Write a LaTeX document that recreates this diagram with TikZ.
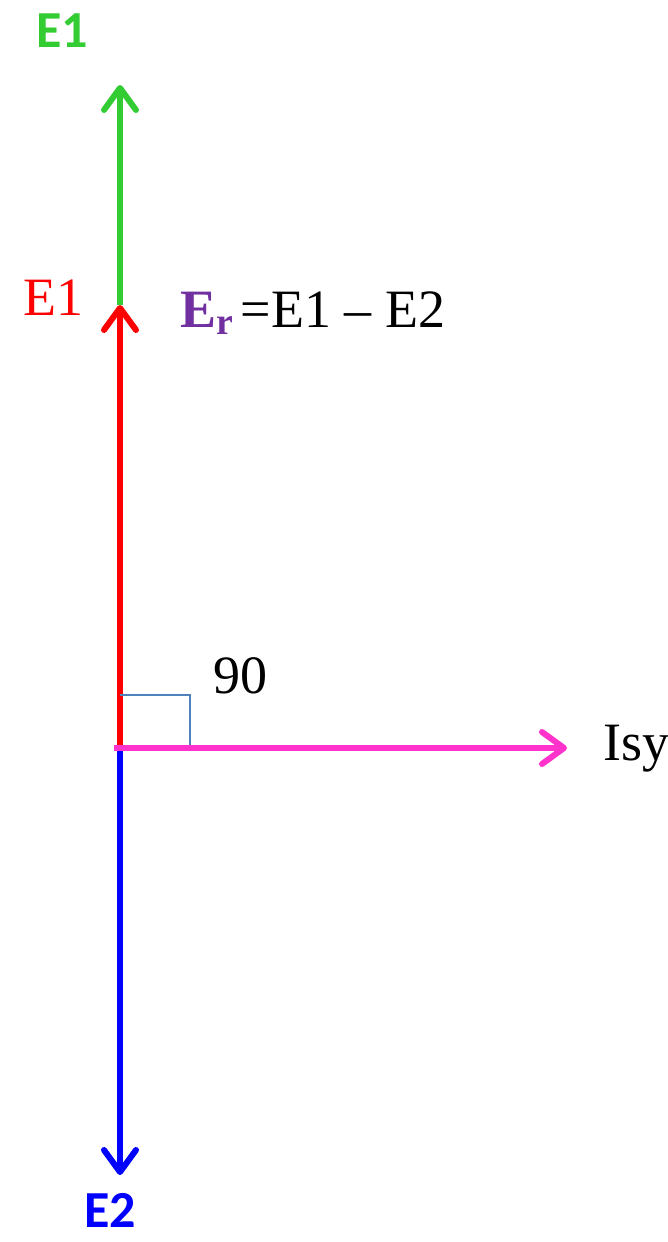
\documentclass[tikz,border=0pt]{standalone}
\usepackage{fontspec}
\setmainfont{Liberation Serif}
\newfontfamily\labelfont{Carlito}
\usetikzlibrary{arrows.meta}
\definecolor{vgreen}{HTML}{33CC33}
\definecolor{vmagenta}{HTML}{FF33CC}
\definecolor{vpurple}{HTML}{7030A0}
\definecolor{vsteel}{HTML}{4F81BD}
\tikzset{
  phasor/.style={line width=3pt,-{Straight Barb[length=11pt,width=16pt,round]}},
  txt/.style={inner sep=0pt,anchor=base west,font=\fontsize{27}{30}\selectfont},
  bigtxt/.style={inner sep=0pt,text depth=0pt,anchor=base west,font=\labelfont\bfseries\fontsize{26}{30}\selectfont}
}
\begin{document}
\begin{tikzpicture}[x=0.5pt,y=-0.5pt]
\useasboundingbox (0,0) rectangle (668,1242);
\coordinate (O) at (120,748);
\coordinate (er) at (120,305);
\coordinate (eg) at (120,85);
\coordinate (eb) at (120,1175);
\coordinate (ip) at (567,748);
\coordinate (ra) at (120,695);
\coordinate (rb) at (190,695);
\coordinate (rc) at (190,748);
\draw[phasor,vgreen] (er)--(eg);
\draw[phasor,red] (O)--(er);
\draw[phasor,blue] (O)--(eb);
\draw[vsteel,line width=1pt] (ra)--(rb)--(rc);
\draw[phasor,vmagenta,shorten <=-3pt] (O)--(ip);
\node[bigtxt,text=vgreen] (E1g) at (36,47) {E1};
\node[txt,text=red] (E1r) at (23,315) {E1};
\node[txt] (Er) at (180,327) {{\bfseries\color{vpurple}E\textsubscript{r}}\hspace{0.12em}=E1 -- E2};
\node[txt] (ang) at (213,693) {90};
\node[txt] (Isy) at (603,760) {Isy};
\node[bigtxt,text=blue] (E2) at (84,1227) {E2};
\end{tikzpicture}
\end{document}
